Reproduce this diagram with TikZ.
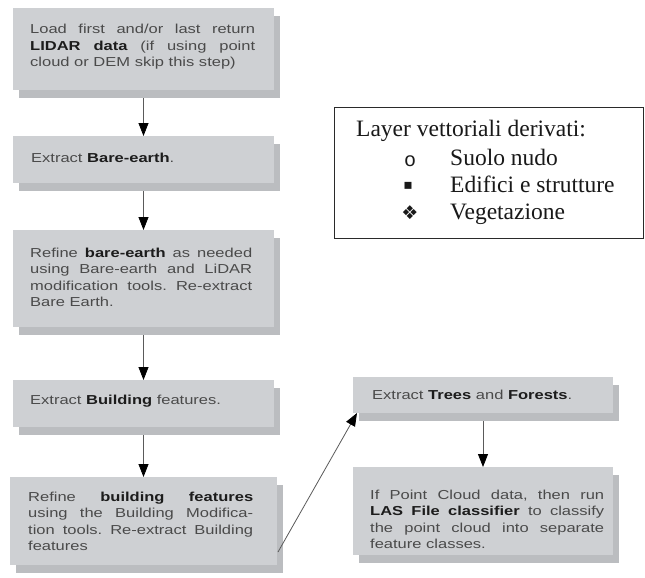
\documentclass[tikz,border=0pt]{standalone}
\usepackage{fontspec}
\usetikzlibrary{arrows.meta,calc}
\newfontfamily\boxfont[FakeStretch=1.27]{Liberation Sans}
\newfontfamily\legfont{Liberation Serif}
\newfontfamily\bulmono{Liberation Mono}
\newfontfamily\bulsym{DejaVu Sans}
\definecolor{boxfill}{HTML}{CED0D3}
\definecolor{boxshade}{HTML}{BBBDC0}
\definecolor{txtgray}{HTML}{4A4A4A}
\definecolor{txtbold}{HTML}{1C1C1C}
\definecolor{arrgray}{HTML}{5A5A5A}
\definecolor{legline}{HTML}{2A2A2A}
\frenchspacing
\newcommand{\bt}[1]{{\bfseries\color{txtbold}#1}}
\newcommand{\jline}[1]{\makebox[\linewidth][s]{#1}\\}
\newcommand{\btext}[2]{\parbox[t]{#1}{\boxfont\fontsize{13}{16.5}\selectfont\frenchspacing\leavevmode #2}}
\tikzset{
  mainbox/.style={fill=boxfill, draw=none, inner sep=0pt, outer sep=0pt, anchor=north west},
  shadebox/.style={fill=boxshade, draw=none, inner sep=0pt, outer sep=0pt, anchor=north west},
  btxt/.style={inner sep=0pt, anchor=base west, text=txtgray},
  legtxt/.style={inner sep=0pt, anchor=base west, font=\legfont\fontsize{23.5}{27}\selectfont, text=black!90},
  bul/.style={inner sep=0pt, anchor=center, text=black!90},
  arr/.style={draw=arrgray, line width=0.8pt, -{Triangle[length=13pt,width=10pt,color=black]}},
}
\newcommand{\gbox}[5]{%
  \node[shadebox, minimum width=#4pt, minimum height=#5pt] (#1s) at (#2+6,#3+8) {};
  \node[mainbox, minimum width=#4pt, minimum height=#5pt] (#1) at (#2,#3) {};}
\begin{document}
\begin{tikzpicture}[x=1pt,y=-1pt]
\useasboundingbox (0,0) rectangle (645,578);
\fill[white] (0,0) rectangle (645,578);
% gray boxes
\gbox{b1}{13}{8}{261}{82}
\gbox{b2}{13}{136}{261}{47}
\gbox{b3}{13}{230}{261}{97}
\gbox{b4}{13}{380}{261}{47}
\gbox{b5}{10}{477}{267}{88}
\gbox{b6}{353}{377}{260}{36}
\gbox{b7}{353}{467}{260}{88}
% texts
\node[btxt] (t1) at (30,34) {\btext{225pt}{\jline{Load first and/or last return}\jline{\bt{LIDAR data} (if using point}cloud or DEM skip this step)}};
\node[btxt] (t2) at (31,162) {\btext{230pt}{Extract \bt{Bare-earth}.}};
\node[btxt] (t3) at (30,257) {\btext{222pt}{\jline{Refine \bt{bare-earth} as needed}\jline{using Bare-earth and LiDAR}\jline{modification tools. Re-extract}Bare Earth.}};
\node[btxt] (t4) at (30,404) {\btext{230pt}{Extract \bt{Building} features.}};
\node[btxt] (t5) at (28,501) {\btext{225pt}{\jline{Refine \bt{building features}}\jline{using the Building Modifica-}\jline{tion tools. Re-extract Building}features}};
\node[btxt] (t6) at (372,399) {\btext{230pt}{Extract \bt{Trees} and \bt{Forests}.}};
\node[btxt] (t7) at (370,499) {\btext{234pt}{\jline{If Point Cloud data, then run}\jline{\bt{LAS File classifier} to classify}\jline{the point cloud into separate}feature classes.}};
% connectors
\draw[arr] (b1.south |- b1s.south) -- (b2.north);
\draw[arr] (b2.south |- b2s.south) -- (b3.north);
\draw[arr] (b3.south |- b3s.south) -- (b4.north);
\draw[arr] (b4.south |- b4s.south) -- (b5.north);
\draw[arr] (b6.south |- b6s.south) -- (b7.north);
\draw[arr] ([shift={(1,-13)}]b5.south east) -- ([shift={(4,0)}]b6.south west);
% legend
\node[draw=legline, line width=1.4pt, minimum width=309pt, minimum height=131pt, anchor=north west, inner sep=0pt] (leg) at (334,107) {};
\node[legtxt] (l0) at (356,136) {Layer vettoriali derivati:};
\node[bul, font=\bulmono\fontsize{20}{20}\selectfont] (u1) at (410,161) {o};
\node[legtxt] (l1) at (450,165) {Suolo nudo};
\node[bul, font=\bulsym\fontsize{14}{14}\selectfont] (u2) at (408,186) {▪};
\node[legtxt] (l2) at (450,192) {Edifici e strutture};
\node[bul, font=\bulsym\fontsize{19}{19}\selectfont] (u3) at (410,213) {❖};
\node[legtxt] (l3) at (450,219) {Vegetazione};
\end{tikzpicture}
\end{document}
